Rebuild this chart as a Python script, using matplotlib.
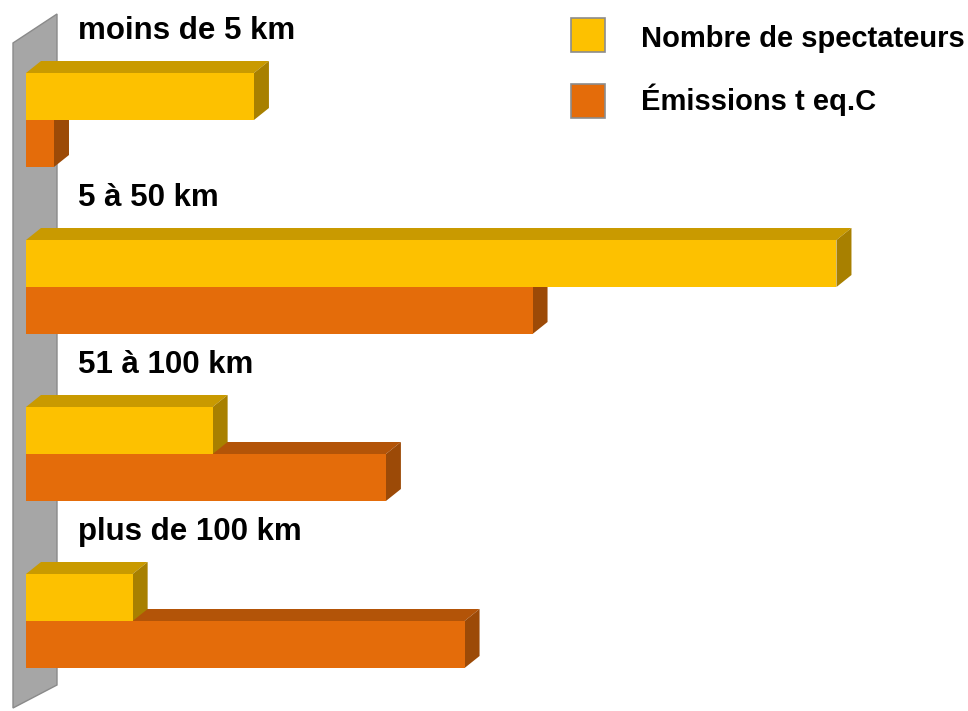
import matplotlib
matplotlib.use("Agg")
import matplotlib.pyplot as plt
from matplotlib.patches import Polygon, Rectangle

# data (percent shares)
categories = ["moins de 5 km", "5 à 50 km", "51 à 100 km", "plus de 100 km"]
spectateurs = [17.1, 60.8, 14.0, 8.0]
emissions = [2.1, 38.0, 27.0, 32.9]
series_labels = ["Nombre de spectateurs", "Émissions t eq.C"]

# colours: front, top, side
yellow = ("#FDC100", "#C99A00", "#A88000")
orange = ("#E46C0A", "#B35408", "#9C4A07")

plt.rcParams["font.family"] = ["Liberation Sans", "DejaVu Sans"]

fig = plt.figure(figsize=(9.68, 7.11), dpi=100)
ax = fig.add_axes([0, 0, 1, 1])
ax.axis("off")

# 1 % = 13.33 px, group step = 167 px
px_x = 13.33
px_y = 167.0
ax.set_xlim(-26 / px_x, (968 - 26) / px_x)
ax.set_ylim((711 - 120) / px_y, -120 / px_y)

bar_h = 47 / px_y
dx = 15 / px_x      # depth of the 3d effect
dy = 12 / px_y


def bar3d(y_top, value, cols, z):
    ax.barh(y_top, value, height=bar_h, left=0, align="edge",
            color=cols[0], linewidth=0, zorder=z + 0.5)
    y_bot = y_top + bar_h
    top = [(0, y_top), (value, y_top), (value + dx, y_top - dy), (dx, y_top - dy)]
    side = [(value, y_top), (value + dx, y_top - dy),
            (value + dx, y_bot - dy), (value, y_bot)]
    ax.add_patch(Polygon(top, closed=True, color=cols[1], lw=0, zorder=z))
    ax.add_patch(Polygon(side, closed=True, color=cols[2], lw=0, zorder=z))


# grey wall behind the bars
x0, x1 = -13 / px_x, 31 / px_x
wall = [(x0, (43 - 120) / px_y), (x0, (708 - 120) / px_y),
        (x1, (685 - 120) / px_y), (x1, (14 - 120) / px_y)]
ax.add_patch(Polygon(wall, closed=True, facecolor="#A6A6A6",
                     edgecolor="#8A8A8A", lw=1, zorder=1))

for i, (cat, s, e) in enumerate(zip(categories, spectateurs, emissions)):
    bar3d(i, e, orange, 2)
    bar3d(i - bar_h, s, yellow, 4)
    ax.text(52 / px_x, i - 81 / px_y, cat, fontsize=22.5, fontweight="bold",
            ha="left", va="baseline", zorder=6)

# legend
W, H = 968, 711
for (top_px, cols, label, base_px) in [(18, yellow, series_labels[0], 47),
                                       (84, orange, series_labels[1], 110)]:
    fig.add_artist(Rectangle((571 / W, 1 - (top_px + 34) / H), 34 / W, 34 / H,
                             facecolor=cols[0], edgecolor="#8C8C8C", lw=1.2,
                             transform=fig.transFigure))
    fig.text(641 / W, 1 - base_px / H, label, fontsize=21, fontweight="bold",
             ha="left", va="baseline")

fig.savefig("out.png", dpi=100)
